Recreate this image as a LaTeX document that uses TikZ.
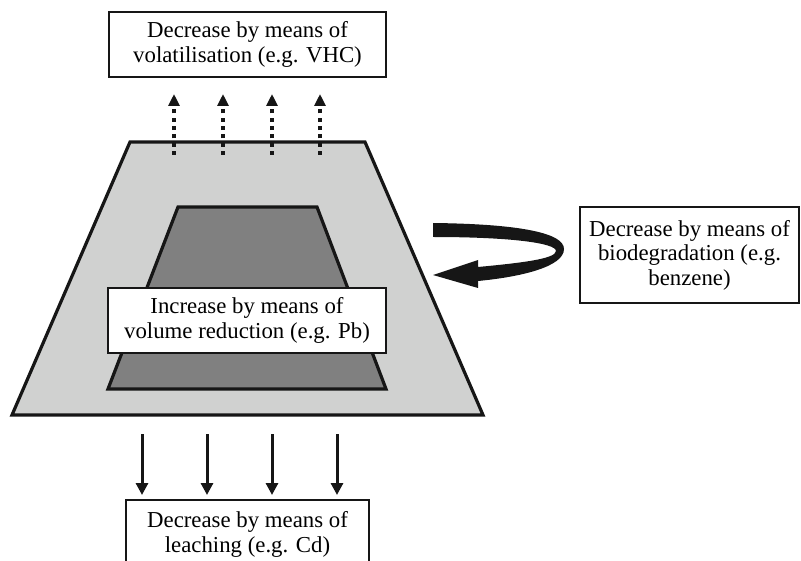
\documentclass[tikz,border=0pt]{standalone}
\usepackage{fontspec}
\setmainfont{Liberation Serif}
\usetikzlibrary{arrows.meta}
\definecolor{soilgray}{HTML}{D0D1D0}
\definecolor{coregray}{HTML}{808080}
\definecolor{inkblack}{HTML}{161616}
\begin{document}
\begin{tikzpicture}[x=1pt,y=-1pt,
  labelbox/.style={draw=inkblack, line width=1.6pt, fill=white, align=center,
    font=\fontsize{22.8}{24.5}\selectfont, inner sep=0pt},
  layer/.style={draw=inkblack, line width=3.2pt, line join=miter},
  vapour/.style={draw=inkblack, line width=4pt, dash pattern=on 4pt off 4.3pt,
    -{Triangle[length=12pt,width=11pt]}},
  seep/.style={draw=inkblack, line width=3pt,
    -{Triangle[length=12pt,width=12pt]}}]
\useasboundingbox (0,0) rectangle (801,561);

% soil body and contaminated core
\path[layer, fill=soilgray] (130,142) -- (365,142) -- (483,415) -- (12,415) -- cycle;
\path[layer, fill=coregray] (178,207) -- (317,207) -- (386,389) -- (108,389) -- cycle;

% label boxes
\node[labelbox, minimum width=277pt, minimum height=65pt] (vol) at (247.5,44.5)
  {Decrease by means of\\volatilisation (e.g. VHC)};
\node[labelbox, minimum width=278pt, minimum height=65pt] (red) at (247,320.5)
  {Increase by means of\\volume reduction (e.g. Pb)};
\node[labelbox, minimum width=219pt, minimum height=96pt] (bio) at (689.5,255)
  {Decrease by means of\\biodegradation (e.g.\\benzene)};
\node[labelbox, minimum width=243pt, inner ysep=12pt, anchor=north] (lea) at (247.5,499)
  {Decrease by means of\\leaching (e.g. Cd)};

% volatilisation arrows
\foreach \i/\x in {1/174,2/223,3/272,4/320}{
  \coordinate (vs\i) at (\x,155);
  \coordinate (ve\i) at (\x,94);
  \draw[vapour] (vs\i) -- (ve\i);
}

% leaching arrows
\foreach \i/\x in {1/142,2/207,3/272,4/337}{
  \coordinate (ls\i) at (\x,434);
  \coordinate (le\i) at (\x,495);
  \draw[seep] (ls\i) -- (le\i);
}

% biodegradation loop arrow
\fill[inkblack] (433,223) .. controls (520,224) and (564,233) .. (564,249)
  .. controls (564,267) and (520,277) .. (478,281) -- (478,288) -- (433,275)
  -- (478,260) -- (478,267) .. controls (520,263) and (556,259) .. (556,251)
  .. controls (556,243) and (510,237) .. (433,237) -- cycle;
\end{tikzpicture}
\end{document}
